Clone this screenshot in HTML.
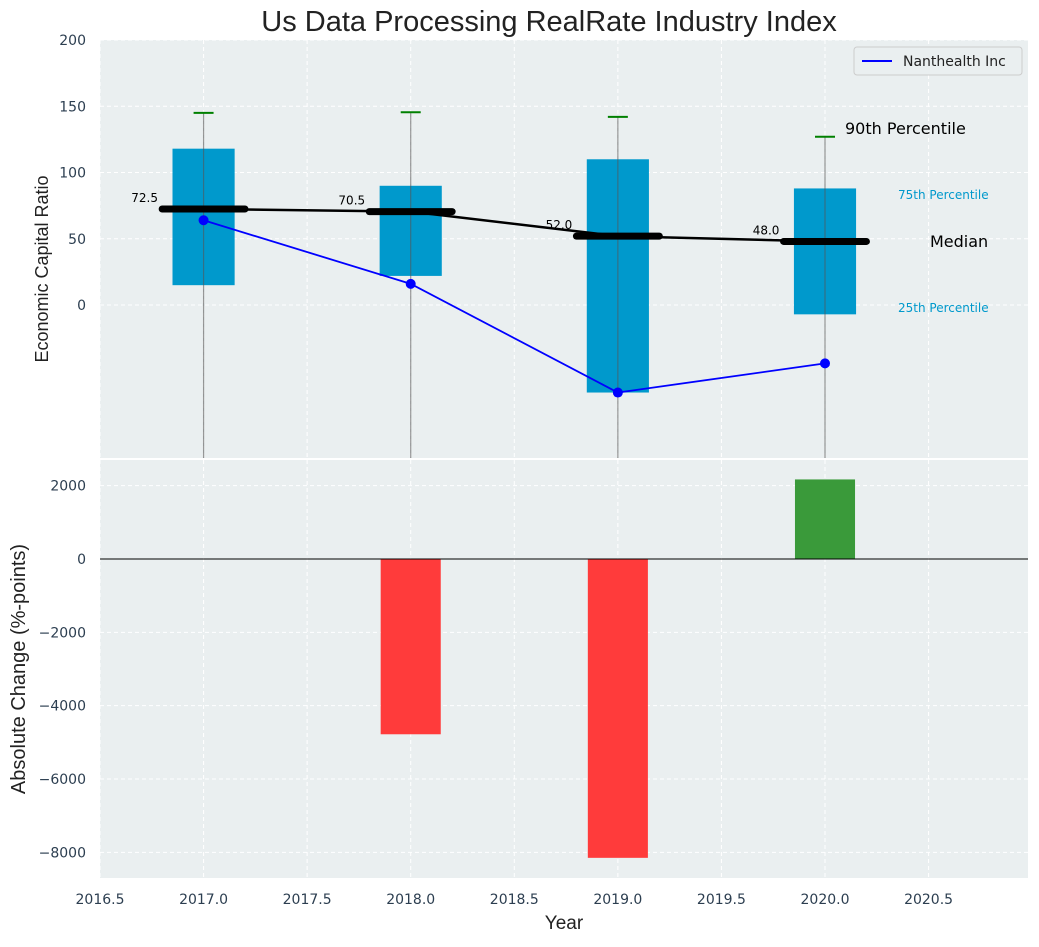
<!DOCTYPE html>
<html><head><meta charset="utf-8"><style>
html,body{margin:0;padding:0;background:#fff;}
svg text{font-family:"Liberation Sans","DejaVu Sans",sans-serif;}
svg text.dj{font-family:"DejaVu Sans",sans-serif;}
</style></head><body>
<svg id="chart" width="1039" height="942" xmlns="http://www.w3.org/2000/svg"></svg>
<script>
const years=[2017,2018,2019,2020];
const p25=[15,22,-66,-7];
const p75=[118,90,110,88];
const p90=[145,145.5,142,127];
const medians=[72.5,70.5,52,48];
const company=[64,16,-66,-44];
const changeYears=[2018,2019,2020];
const changes=[-4780,-8150,2170];
const topTicks=[0,50,100,150,200];
const bottomTicks=[-8000,-6000,-4000,-2000,0,2000];
const xTicks=[2016.5,2017,2017.5,2018,2018.5,2019,2019.5,2020,2020.5];

const svg=document.getElementById('chart');
const NS='http://www.w3.org/2000/svg';
function mk(tag,attrs,parent){const e=document.createElementNS(NS,tag);for(const k in attrs)e.setAttribute(k,attrs[k]);(parent||svg).appendChild(e);return e;}
const L=100,R=1028,T1=40,B1=458,T2=460,B2=878;
const xmin=2016.5,xmax=2020.98;
const X=v=>L+(v-xmin)/(xmax-xmin)*(R-L);
const y1min=-115.4,y1max=200;
const Y1=v=>B1-(v-y1min)/(y1max-y1min)*(B1-T1);
const y2min=-8700,y2max=2700;
const Y2=v=>B2-(v-y2min)/(y2max-y2min)*(B2-T2);

let e;
e=mk('rect',{x:L,y:T1,width:R-L,height:B1-T1,fill:'#eaeff0'});

e=mk('rect',{x:L,y:T2,width:R-L,height:B2-T2,fill:'#eaeff0'});


xTicks.forEach(t=>{[[T1,B1],[T2,B2]].forEach(([a,b])=>{e=mk('line',{x1:X(t),x2:X(t),y1:a,y2:b,stroke:'#fff','stroke-dasharray':'4,3','stroke-width':1});
});});
topTicks.forEach(t=>{e=mk('line',{x1:L,x2:R,y1:Y1(t),y2:Y1(t),stroke:'#fff','stroke-dasharray':'4,3'});

e=mk('text',{class:'dj',x:L-14,y:Y1(t)+5,'text-anchor':'end','font-size':14,fill:'#2c3e50'});e.textContent=t;
});
bottomTicks.forEach(t=>{e=mk('line',{x1:L,x2:R,y1:Y2(t),y2:Y2(t),stroke:'#fff','stroke-dasharray':'4,3'});

e=mk('text',{class:'dj',x:L-14,y:Y2(t)+5,'text-anchor':'end','font-size':14,fill:'#2c3e50'});e.textContent=t<0?'\u2212'+Math.abs(t):t;
});
xTicks.forEach(t=>{e=mk('text',{class:'dj',x:X(t),y:904,'text-anchor':'middle','font-size':14,fill:'#2c3e50'});e.textContent=t.toFixed(1);
});

const gTop=mk('g',{});
const cp=mk('clipPath',{id:'c1'});mk('rect',{x:L,y:T1,width:R-L,height:B1-T1},cp);
gTop.setAttribute('clip-path','url(#c1)');
const hw=0.15;
years.forEach((yr,i)=>{
 e=mk('rect',{x:X(yr-hw),y:Y1(p75[i]),width:X(yr+hw)-X(yr-hw),height:Y1(p25[i])-Y1(p75[i]),fill:'#0099cc'},gTop);
 
 e=mk('line',{x1:X(yr),x2:X(yr),y1:Y1(p90[i]),y2:B1+5,stroke:'#555','stroke-opacity':0.6,'stroke-width':1.2},gTop);
 
 e=mk('line',{x1:X(yr)-10,x2:X(yr)+10,y1:Y1(p90[i]),y2:Y1(p90[i]),stroke:'green','stroke-width':2},gTop);
 
});
e=mk('polyline',{points:years.map((y,i)=>X(y)+','+Y1(medians[i])).join(' '),fill:'none',stroke:'#000','stroke-width':2.5},gTop);

years.forEach((yr,i)=>{
 e=mk('line',{x1:X(yr-0.2),x2:X(yr+0.2),y1:Y1(medians[i]),y2:Y1(medians[i]),stroke:'#000','stroke-width':7,'stroke-linecap':'round'},gTop);
 
 e=mk('text',{class:'dj',x:X(yr-0.22),y:Y1(medians[i])-7,'text-anchor':'end','font-size':12,fill:'#000'},gTop);e.textContent=medians[i].toFixed(1);
 
});
e=mk('polyline',{points:years.map((y,i)=>X(y)+','+Y1(company[i])).join(' '),fill:'none',stroke:'#0000ff','stroke-width':1.8},gTop);

years.forEach((yr,i)=>{e=mk('circle',{cx:X(yr),cy:Y1(company[i]),r:5,fill:'#0000ff'},gTop);
 });

[['90th Percentile',845,134,16,'#000'],['75th Percentile',898,199,12,'#0099cc'],['Median',930,247,16,'#000'],['25th Percentile',898,312,12,'#0099cc']].forEach(a=>{
 e=mk('text',{class:'dj',x:a[1],y:a[2],'font-size':a[3],fill:a[4]});e.textContent=a[0];
 });

const lg=mk('g',{});
mk('rect',{x:854,y:47,width:168,height:28,rx:3,fill:'#eaeff0',stroke:'#ccc'},lg);
mk('line',{x1:862,x2:892,y1:61,y2:61,stroke:'#0000ff','stroke-width':2},lg);
e=mk('text',{class:'dj',x:903,y:66,'font-size':14,fill:'#222'},lg);e.textContent='Nanthealth Inc';


changeYears.forEach((yr,i)=>{const v=changes[i];
 e=mk('rect',{x:X(yr-0.145),y:Math.min(Y2(v),Y2(0)),width:X(yr+0.145)-X(yr-0.145),height:Math.abs(Y2(v)-Y2(0)),fill:v<0?'#ff3b3b':'#3a9a3a'});
 });
e=mk('line',{x1:L,x2:R,y1:Y2(0),y2:Y2(0),stroke:'#000','stroke-width':1});


e=mk('text',{x:549,y:31,'text-anchor':'middle','font-size':29,fill:'#222'});e.textContent='Us Data Processing RealRate Industry Index';

e=mk('text',{x:48,y:269,'text-anchor':'middle','font-size':18,fill:'#222',transform:'rotate(-90 48 269)'});e.textContent='Economic Capital Ratio';

e=mk('text',{x:25,y:669,'text-anchor':'middle','font-size':20,fill:'#222',transform:'rotate(-90 25 669)'});e.textContent='Absolute Change (%-points)';

e=mk('text',{x:564,y:929,'text-anchor':'middle','font-size':19,fill:'#222'});e.textContent='Year';

</script>
</body></html>
